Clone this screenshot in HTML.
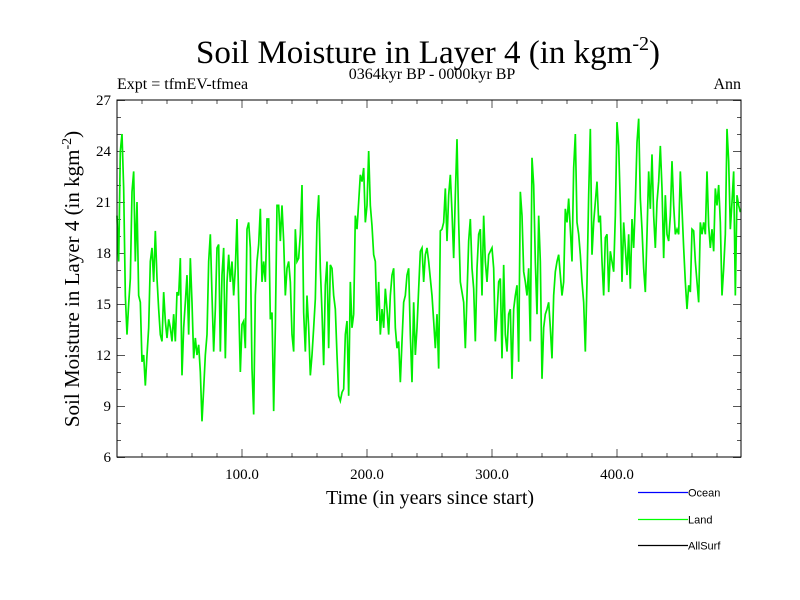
<!DOCTYPE html>
<html><head><meta charset="utf-8">
<style>
html,body{margin:0;padding:0;background:#fff;}
svg{display:block;}
.serif{font-family:"Liberation Serif",serif;}
.sans{font-family:"Liberation Sans",sans-serif;}
</style></head>
<body>
<svg id="chart" width="800" height="600" viewBox="0 0 800 600" xmlns="http://www.w3.org/2000/svg">
  <rect width="800" height="600" fill="#fff"/>
  <text x="428" y="63" text-anchor="middle" class="serif" font-size="33">Soil Moisture in Layer 4 (in kgm<tspan dy="-13" font-size="20">-2</tspan><tspan dy="13">)</tspan></text>
  <text x="117" y="89" class="serif" font-size="16">Expt = tfmEV-tfmea</text>
  <text x="432" y="79" text-anchor="middle" class="serif" font-size="16">0364kyr BP - 0000kyr BP</text>
  <text x="741" y="89" text-anchor="end" class="serif" font-size="16">Ann</text>
  <g id="axes"></g>
  <g id="series"></g>
  <rect x="117" y="100" width="624" height="357" fill="none" stroke="#000" stroke-width="1"/>
  <text x="430" y="504" text-anchor="middle" class="serif" font-size="20">Time (in years since start)</text>
  <text transform="translate(79,279) rotate(-90)" text-anchor="middle" class="serif" font-size="21">Soil Moisture in Layer 4 (in kgm<tspan dy="-8" font-size="14">-2</tspan><tspan dy="8">)</tspan></text>
  <g>
    <g>
      <line x1="638" y1="492.5" x2="688" y2="492.5" stroke="#0000ff" stroke-width="1.3"/>
      <text x="688" y="496.5" class="sans" font-size="11">Ocean</text>
    </g>
    <g>
      <line x1="638" y1="519.5" x2="688" y2="519.5" stroke="#00ff00" stroke-width="1.3"/>
      <text x="688" y="523.5" class="sans" font-size="11">Land</text>
    </g>
    <g>
      <line x1="638" y1="545.5" x2="688" y2="545.5" stroke="#000" stroke-width="1.3"/>
      <text x="688" y="549.5" class="sans" font-size="11">AllSurf</text>
    </g>
  </g>
</svg>
<script>
const startYear = 0;
const stepYears = 4/3;
const landValues = [
20.2,17.5,24,25,21.8,15.5,13.2,15,16.5,21.6,22.8,17.5,21,15.5,15.1,11.6,12,10.2,12,13.6,17.5,18.3,16.3,19.3,16.5,14.7,13.2,12.8,15.7,14,13,14.1,13.6,12.8,14.4,12.8,15.7,15.5,17.7,10.8,13.6,15.1,16.7,13.2,17.7,15.1,11.8,13,12,12.6,11,8.1,10,12,13.2,17.5,19.1,15.5,12.2,14.7,18.3,18.5,12.2,16.7,18.3,11.8,16.3,17.9,16.3,17.5,15.5,17.1,20,15.1,11,13.8,14,12.4,19.4,19.8,18.3,11.2,8.5,15.5,17.5,18.5,20.6,16.3,17.5,16.3,20,20,14.1,14.5,8.7,13.6,20.8,20.8,18.7,20.8,18.7,15.5,17.1,17.5,16.3,13.2,12.2,19.4,17.5,17.7,19.1,22,14.5,12.2,15.5,13.6,10.8,12,13.6,15.3,19.8,21.4,17.1,14.5,11.4,16.1,17.5,12.4,17.3,
17.1,15.5,14.7,12,9.6,9.3,9.8,10,13.2,14,9.6,16.3,13.6,14.4,20.2,19.4,21,22.6,22.2,23,19.8,20.8,24,20.8,19.6,17.9,17.5,14,16.3,13.2,14.7,13.6,15.9,14.7,13.2,15.5,16.7,17.1,13.6,12.4,12.8,10.4,12.8,15.1,15.5,16.7,17.1,13.2,10.4,15.1,12,13.6,15.9,18.1,18.3,16.3,17.9,18.3,17.5,16.5,15.5,14,12.4,14.4,11.2,19.3,19.4,19.8,21.8,18.7,21.4,22.6,20.4,17.7,21.4,24.7,19.8,16.3,15.7,15.1,12.4,15.5,18.7,20,17.1,15.9,12.8,17.1,19.1,19.4,15.5,20.2,17.5,16.3,17.9,18.1,18.3,17.1,12.8,14.4,16.3,16.5,11.8,17.3,13.2,12.2,14.4,14.7,10.6,14.7,15.5,16.1,11.6,21.6,20.2,16.9,16.3,15.5,17.1,12.8,23.6,22,17.5,14.4,20.2,17.5,
10.6,13.6,14.4,14.7,15.1,13.6,11.8,15.5,16.9,17.5,17.9,16.7,15.5,16.3,20.6,19.8,21.2,19.4,17.5,23,25,19.8,19.1,17.9,16.3,15.1,12.2,16.3,21.4,25.3,17.9,19.8,21,22.2,19.8,20.2,17.5,15.5,18.9,19.1,15.7,18.1,17.5,16.9,20.2,25.7,24.3,20.8,16.3,19.8,18.3,16.7,19.1,15.9,20,18.3,21,24.5,25.9,21.2,19.4,17.1,15.7,19.1,22.8,20.6,23.8,20.2,18.3,21,22.2,24.3,21.8,17.7,21.4,19.1,18.7,20.2,23.4,20.8,19.1,19.4,19.1,22.8,20.6,18.3,16.3,14.7,16.1,15.7,19.4,19.3,17.5,16.3,15.1,19.8,19.1,19.8,19.1,22.8,19.6,18.3,19.4,18.1,21.8,20.8,22,19.8,15.5,17.1,19.1,25.3,23.4,19.4,21,22.8,15.5,21.4,20.8,20.4
];
const yTickLabels = ["6","9","12","15","18","21","24","27"];
const yTickValues = [6,9,12,15,18,21,24,27];
const xTickLabels = ["100.0","200.0","300.0","400.0"];
const xTickValues = [100,200,300,400];

const X0=117, X1=741, Y0=457, Y1=100;
const xMin=0, xMax=499.2, yMin=6, yMax=27;
function sx(v){return X0+(v-xMin)/(xMax-xMin)*(X1-X0);}
function sy(v){return Y0-(v-yMin)/(yMax-yMin)*(Y0-Y1);}
const NS="http://www.w3.org/2000/svg";
const axes=document.getElementById('axes');
function line(x1,y1,x2,y2,name){
  const l=document.createElementNS(NS,'line');
  l.setAttribute('x1',x1);l.setAttribute('y1',y1);l.setAttribute('x2',x2);l.setAttribute('y2',y2);
  l.setAttribute('stroke','#555');l.setAttribute('stroke-width','1');
  
  
  axes.appendChild(l);
}
for(let v=yMin; v<=yMax; v+=1){
  const y=sy(v)+0.5, major=(v%3===0), len=major?8:4;
  line(X0,y,X0+len,y,'y-tick-left');
  line(X1,y,X1-len,y,'y-tick-right');
}
for(let v=20; v<xMax; v+=20){
  const x=sx(v), major=(v%100===0), len=major?8:4;
  line(x,Y0,x,Y0-len,'x-tick-bottom');
  line(x,Y1,x,Y1+len,'x-tick-top');
}
yTickValues.forEach((v,i)=>{
  const t=document.createElementNS(NS,'text');
  t.setAttribute('x',X0-6);t.setAttribute('y',sy(v)+5);
  t.setAttribute('text-anchor','end');t.setAttribute('class','serif');t.setAttribute('font-size','15');
  t.textContent=yTickLabels[i];
  
  
  axes.appendChild(t);
});
xTickValues.forEach((v,i)=>{
  const t=document.createElementNS(NS,'text');
  t.setAttribute('x',sx(v));t.setAttribute('y',Y0+22);
  t.setAttribute('text-anchor','middle');t.setAttribute('class','serif');t.setAttribute('font-size','15');
  t.textContent=xTickLabels[i];
  
  
  axes.appendChild(t);
});
const pts=landValues.map((v,i)=>sx(startYear+i*stepYears).toFixed(2)+','+sy(v).toFixed(2)).join(' ');
const pl=document.createElementNS(NS,'polyline');
pl.setAttribute('points',pts);
pl.setAttribute('fill','none');pl.setAttribute('stroke','#00ee00');pl.setAttribute('stroke-width','1.7');
pl.setAttribute('stroke-linejoin','miter');


document.getElementById('series').appendChild(pl);
</script>
</body></html>
